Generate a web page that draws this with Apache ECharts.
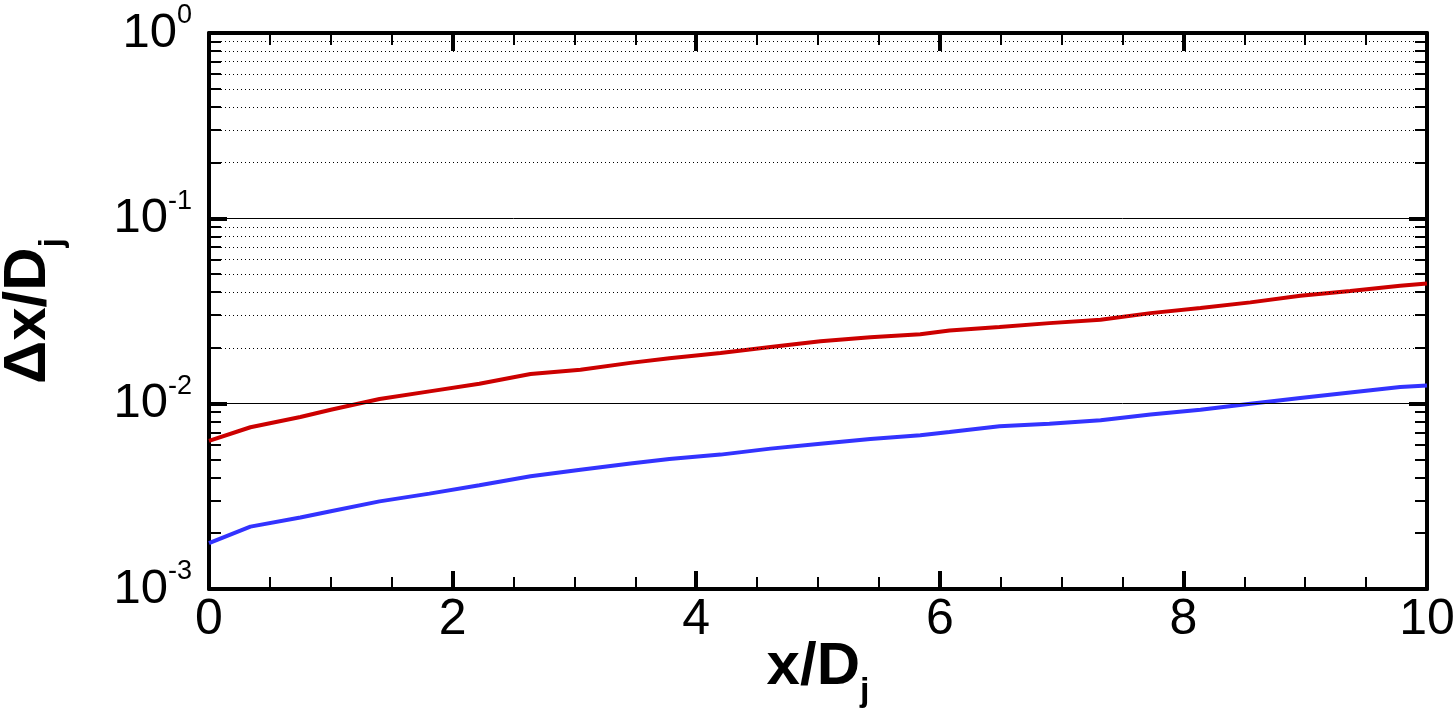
<!DOCTYPE html>
<html>
<head>
<meta charset="utf-8">
<script src="https://cdn.jsdelivr.net/npm/echarts@6/dist/echarts.min.js"></script>
<style>
html,body{margin:0;padding:0;background:#fff;}
#chart{width:1456px;height:718px;}
</style>
</head>
<body>
<div id="chart"></div>
<script>
// ---- data ----
const xValues = [0, 0.34, 0.75, 1.0, 1.4, 1.81, 2.22, 2.64, 3.05, 3.46, 3.78, 4.2, 4.61, 5.02, 5.43, 5.84, 6.08, 6.49, 6.9, 7.32, 7.73, 8.14, 8.55, 8.96, 9.37, 9.78, 10];
const redValues = [0.0063, 0.00746, 0.00848, 0.00928, 0.0106, 0.01165, 0.0128, 0.01445, 0.01525, 0.0166, 0.0176, 0.01877, 0.0202, 0.0217, 0.0228, 0.0237, 0.0248, 0.0259, 0.0272, 0.0284, 0.0308, 0.0328, 0.0352, 0.0382, 0.0406, 0.0433, 0.0445];
const blueValues = [0.00177, 0.00217, 0.00243, 0.00263, 0.00297, 0.00327, 0.00363, 0.00406, 0.0044, 0.00475, 0.00503, 0.00531, 0.00572, 0.00608, 0.00645, 0.00676, 0.00704, 0.00755, 0.0078, 0.00813, 0.00873, 0.00928, 0.0100, 0.01073, 0.0115, 0.0123, 0.01255];
const xTicks = [0, 2, 4, 6, 8, 10];
const yTickValues = [0.001, 0.01, 0.1, 1];
const yTickExponents = ['-3', '-2', '-1', '0'];
const yMinorTicks = [0.002,0.003,0.004,0.005,0.006,0.007,0.008,0.009,
                     0.02,0.03,0.04,0.05,0.06,0.07,0.08,0.09,
                     0.2,0.3,0.4,0.5,0.6,0.7,0.8,0.9];
const yMajorGrid = [0.01, 0.1];
const xTitle = 'x/D';
const yTitle = 'Δx/D';
const subscript = 'j';

const FONT = '"Liberation Sans", Arial, Helvetica, sans-serif';

function pair(a, b) { return a.map((v, i) => [v, b[i]]); }

const chart = echarts.init(document.getElementById('chart'), null, {renderer: 'canvas'});

const yLabelRich = {
  a: {fontFamily: FONT, fontSize: 49, lineHeight: 50, color: '#000'},
  b: {fontFamily: FONT, fontSize: 27, lineHeight: 27, color: '#000', padding: [0, 0, 34, 0]}
};
const nameRich = {
  a: {fontFamily: FONT, fontSize: 60, lineHeight: 60, fontWeight: 'bold', color: '#000'},
  b: {fontFamily: FONT, fontSize: 34, lineHeight: 34, fontWeight: 'bold', color: '#000', padding: [50, 0, 0, 0]}
};

function yAxisBase(pos) {
  return {
    type: 'log', logBase: 10, min: 0.001, max: 1, position: pos,
    splitLine: {show: false}, minorSplitLine: {show: false}
  };
}

const option = {
  animation: false,
  backgroundColor: '#fff',
  grid: {left: 209, right: 29, top: 33, bottom: 129, containLabel: false, outerBoundsMode: 'none'},
  xAxis: [
    {
      type: 'value', min: xTicks[0], max: xTicks[xTicks.length - 1], interval: 2, position: 'bottom',
      axisLine: {show: true, lineStyle: {color: '#000', width: 4}},
      axisTick: {show: true, inside: true, length: 18, lineStyle: {color: '#000', width: 4}},
      minorTick: {show: true, splitNumber: 4, length: 12, lineStyle: {color: '#000', width: 2}},
      axisLabel: {show: true, fontFamily: FONT, fontSize: 50, color: '#000', margin: 6},
      splitLine: {show: false}, minorSplitLine: {show: false},
      name: '{a|' + xTitle + '}{b|' + subscript + '}', nameLocation: 'middle', nameGap: 48,
      nameMoveOverlap: false,
      nameTextStyle: {rich: nameRich}
    },
    {
      type: 'value', min: xTicks[0], max: xTicks[xTicks.length - 1], interval: 2, position: 'top',
      axisLine: {show: true, lineStyle: {color: '#000', width: 4}},
      axisTick: {show: true, inside: true, length: 18, lineStyle: {color: '#000', width: 4}},
      minorTick: {show: true, splitNumber: 4, length: 12, lineStyle: {color: '#000', width: 2}},
      axisLabel: {show: false},
      splitLine: {show: false}, minorSplitLine: {show: false}
    }
  ],
  yAxis: [
    Object.assign(yAxisBase('left'), {
      axisLine: {show: true, lineStyle: {color: '#000', width: 4}},
      axisTick: {show: true, inside: true, length: 18, lineStyle: {color: '#000', width: 4}},
      axisLabel: {
        show: true, margin: 17,
        formatter: function (v) {
          let idx = 0, best = Infinity;
          yTickValues.forEach((t, i) => { const d = Math.abs(Math.log10(t) - Math.log10(v)); if (d < best) { best = d; idx = i; } });
          return '{a|10}{b|' + yTickExponents[idx] + '}';
        },
        rich: yLabelRich
      },
      name: '{a|' + yTitle + '}{b|' + subscript + '}', nameLocation: 'middle', nameGap: 151,
      nameMoveOverlap: false,
      nameTextStyle: {rich: nameRich}
    }),
    Object.assign(yAxisBase('left'), {
      axisLine: {show: false},
      axisTick: {show: true, inside: true, length: 12, customValues: yMinorTicks, lineStyle: {color: '#000', width: 2}},
      axisLabel: {show: false}
    }),
    Object.assign(yAxisBase('right'), {
      axisLine: {show: true, lineStyle: {color: '#000', width: 4}},
      axisTick: {show: true, inside: true, length: 18, lineStyle: {color: '#000', width: 4}},
      axisLabel: {show: false}
    }),
    Object.assign(yAxisBase('right'), {
      axisLine: {show: false},
      axisTick: {show: true, inside: true, length: 12, customValues: yMinorTicks, lineStyle: {color: '#000', width: 2}},
      axisLabel: {show: false}
    })
  ],
  series: [
    {
      type: 'line', xAxisIndex: 0, yAxisIndex: 0, data: [], silent: true, z: 1,
      markLine: {
        silent: true, symbol: ['none', 'none'], label: {show: false}, animation: false,
        data: yMinorTicks.map(v => ({yAxis: v, lineStyle: {color: '#000', width: 1, type: [1, 3]}}))
          .concat(yMajorGrid.map(v => ({yAxis: v, lineStyle: {color: '#000', width: 1, type: 'solid'}})))
      }
    },
    {
      name: 'blue', type: 'line', xAxisIndex: 0, yAxisIndex: 0, data: pair(xValues, blueValues),
      showSymbol: false, symbol: 'none', lineStyle: {color: '#3333ff', width: 4}, z: 3
    },
    {
      name: 'red', type: 'line', xAxisIndex: 0, yAxisIndex: 0, data: pair(xValues, redValues),
      showSymbol: false, symbol: 'none', lineStyle: {color: '#cc0000', width: 4}, z: 3
    }
  ]
};
chart.setOption(option);
</script>
</body>
</html>
